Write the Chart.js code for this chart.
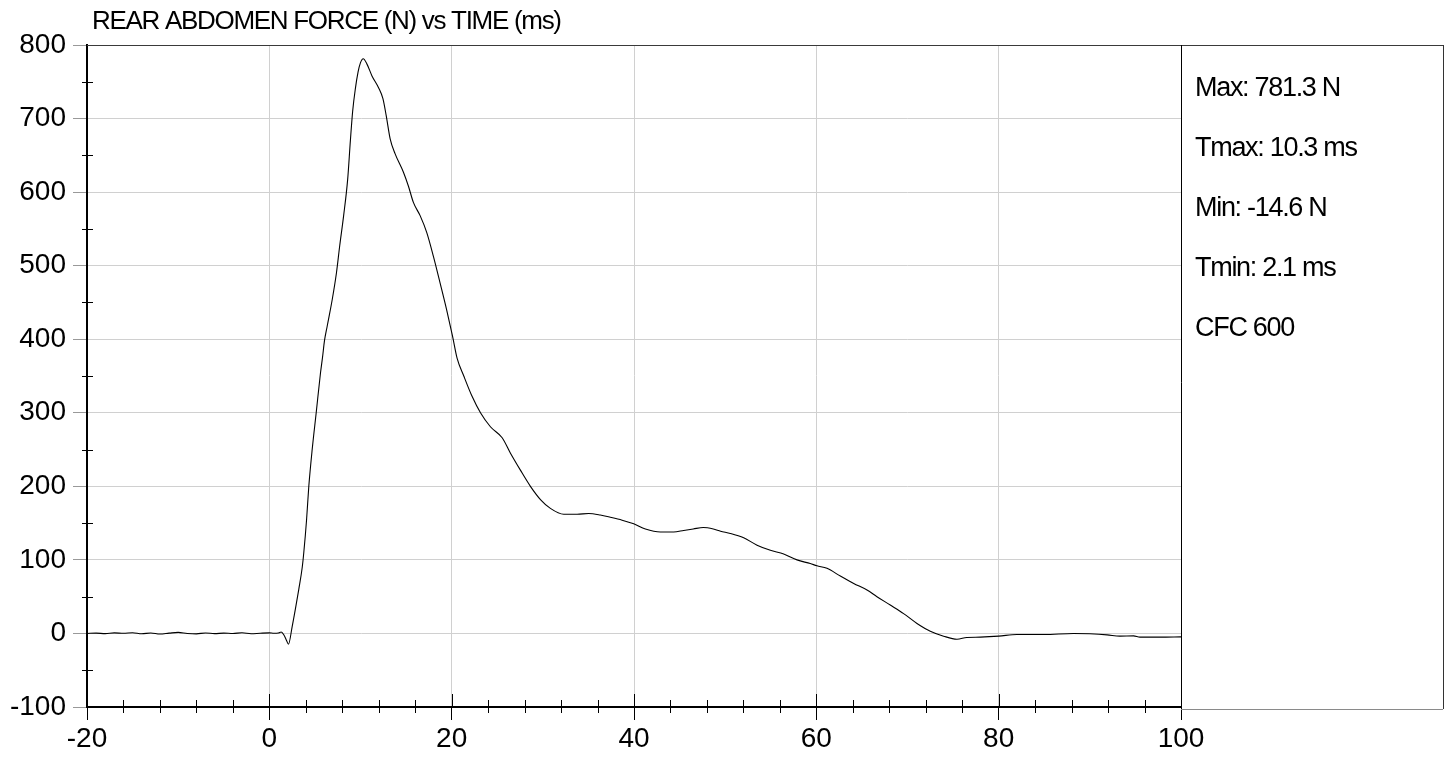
<!DOCTYPE html>
<html>
<head>
<meta charset="utf-8">
<script src="https://cdn.jsdelivr.net/npm/chart.js@4/dist/chart.umd.min.js"></script>
<style>
  html, body { margin: 0; padding: 0; background: #fff; overflow: hidden; }
</style>
</head>
<body>
<canvas id="chart1" width="1447" height="757"></canvas>
<script>
const chartTitle = "REAR ABDOMEN FORCE (N) vs TIME (ms)";
const statLines = ["Max: 781.3 N", "Tmax: 10.3 ms", "Min: -14.6 N", "Tmin: 2.1 ms", "CFC 600"];

// time (ms) and force (N)
const timeMs = [
  -20, -19, -18, -17, -16, -15, -14, -13, -12, -11, -10, -9, -8, -7, -6, -5, -4, -3, -2, -1,
  0, 0.5, 1.0, 1.3, 1.6, 1.9, 2.1, 2.5, 2.87, 3.23, 3.61, 3.78, 4.08, 4.33, 4.7, 5.14, 5.61,
  5.83, 6.05, 6.35, 6.9, 7.36, 7.72, 8.15, 8.59, 8.89, 9.14, 9.43, 9.73, 10.0, 10.3,
  10.71, 11.26, 11.98, 12.46, 12.82, 13.26, 13.8, 14.71, 15.26, 15.8, 16.54, 17.27, 17.99,
  18.72, 19.45, 20.1, 20.6, 21.33, 22.25, 23.16, 24.25, 25.54, 26.45, 27.54, 28.64, 29.74,
  30.83, 32.29, 33.76, 35.03, 36.3, 37.4, 38.7, 39.97, 41.25, 42.9, 44.35, 45.45, 46.5,
  47.6, 48.7, 49.5, 50.57, 52.03, 53.5, 54.96, 56.42, 57.88, 59.34, 60.07, 61.17, 62.63,
  64.1, 65.56, 66.65, 68.11, 69.57, 71.04, 72.5, 73.96, 75.43, 76.5, 78, 80, 82, 85, 88.2,
  90, 91.9, 93.3, 94.8, 95.5, 97.7, 100
];
const forceN = [
  0, 0.5, -0.3, 0.8, 0.2, 1.0, -0.5, 0.6, -0.8, 0.4, 1.5, 0, -0.6, 0.7, -0.3, 0.5, 0, 0.9, -0.4, 0.3,
  0.8, 0.2, 0.5, 2.0, -2, -10, -14.6, 9, 34, 60, 90, 110, 154, 200, 250, 300, 354,
  375, 398, 418, 454, 490, 527, 568, 617, 670, 710, 740, 763, 776, 781.3,
  774, 758, 742, 727, 704, 672, 652, 627, 608, 586, 568, 545, 513,
  477, 440, 404, 374, 350, 322, 300, 281, 266, 245, 222, 200, 182,
  170, 162, 162, 163, 161, 158, 154, 149, 142, 138, 138, 140, 142,
  144, 142, 139, 136, 130, 120, 113, 108, 100, 95, 92, 88.5, 78,
  68, 59, 50, 38.6, 27, 13.6, 3, -3.7, -7.8, -5.5, -5, -3.7, -1.4, -1.4, 0,
  -0.5, -1.9, -3.7, -3.3, -5, -5, -4.6
];

const xMin = -20, xMax = 100, xStep = 20, xMinorStep = 4;
const yMin = -100, yMax = 800, yStep = 100, yMinorStep = 50;

const fontFamily = "'Liberation Sans', Arial, sans-serif";

function seg(ctx, x1, y1, x2, y2) {
  ctx.beginPath();
  ctx.moveTo(x1, y1);
  ctx.lineTo(x2, y2);
  ctx.stroke();
}

const frame = {
  id: "frame",
  afterDraw(chart) {
    const { ctx, chartArea: a, scales: { x, y } } = chart;
    const panelRight = 1443;
    ctx.save();
    ctx.lineWidth = 1;
    ctx.strokeStyle = "#000";
    // minor ticks on x, crossing the axis
    for (let t = xMin + xMinorStep; t < xMax; t += xMinorStep) {
      const px = Math.round(x.getPixelForValue(t)) + 0.5;
      if (t % xStep === 0) seg(ctx, px, a.bottom - 13, px, a.bottom);
      else seg(ctx, px, a.bottom - 7, px, a.bottom + 6);
    }
    // minor ticks on y
    for (let v = yMin + yMinorStep; v < yMax; v += yStep) {
      const py = Math.round(y.getPixelForValue(v)) + 0.5;
      seg(ctx, a.left - 5, py, a.left + 6, py);
    }
    // top frame line
    ctx.strokeStyle = "#3a3a3a";
    seg(ctx, a.left, a.top + 0.5, panelRight, a.top + 0.5);
    // stats panel
    ctx.strokeStyle = "#000";
    seg(ctx, a.right + 0.5, a.top, a.right + 0.5, a.bottom + 13);
    ctx.strokeStyle = "#333";
    seg(ctx, panelRight + 0.5, a.top, panelRight + 0.5, a.bottom + 2);
    ctx.strokeStyle = "#8a8a8a";
    seg(ctx, a.right, a.bottom + 2.5, panelRight, a.bottom + 2.5);

    ctx.fillStyle = "#000";
    ctx.textAlign = "left";
    ctx.textBaseline = "alphabetic";
    ctx.font = "27px " + fontFamily;
    ctx.letterSpacing = "-1.3px";
    statLines.forEach((s, i) => ctx.fillText(s, a.right + 14, 96 + i * 60));

    ctx.font = "26px " + fontFamily;
    ctx.letterSpacing = "-1.3px";
    ctx.fillText(chartTitle, 92, 28.5);
    ctx.restore();
  }
};

const points = timeMs.map((t, i) => ({ x: t, y: forceN[i] }));

new Chart(document.getElementById("chart1"), {
  type: "line",
  data: {
    datasets: [{
      data: points,
      borderColor: "#000",
      borderWidth: 1.1,
      pointRadius: 0,
      fill: false,
      cubicInterpolationMode: "monotone"
    }]
  },
  options: {
    responsive: false,
    animation: false,
    devicePixelRatio: 1,
    layout: { padding: { top: 45, right: 266, left: 0, bottom: 0 } },
    plugins: { legend: { display: false }, tooltip: { enabled: false } },
    scales: {
      x: {
        type: "linear",
        min: xMin,
        max: xMax,
        afterFit: s => { s.height = 50; },
        ticks: { stepSize: xStep, color: "#000", padding: 2, font: { size: 28, family: fontFamily } },
        grid: { color: "#d0d0d0", tickColor: "#000", tickLength: 13, lineWidth: 1 },
        border: { color: "#000", width: 2 }
      },
      y: {
        min: yMin,
        max: yMax,
        afterFit: s => { s.width = 87; },
        ticks: { stepSize: yStep, color: "#000", padding: 7, font: { size: 28, family: fontFamily } },
        grid: { color: "#d0d0d0", tickColor: "#999", tickLength: 14, lineWidth: 1 },
        border: { color: "#000", width: 2 }
      }
    }
  },
  plugins: [frame]
});
</script>
</body>
</html>
